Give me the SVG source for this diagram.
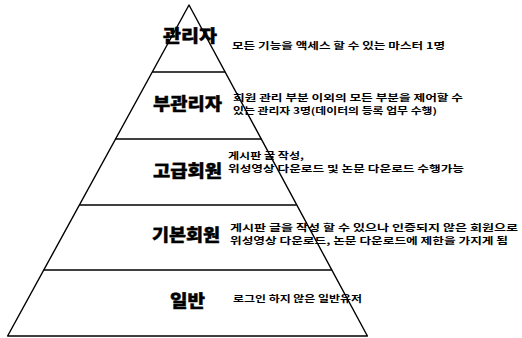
<svg xmlns="http://www.w3.org/2000/svg" width="522" height="338" viewBox="0 0 522 338">
<style>
.edge{fill:none;stroke:#000;stroke-width:1.4;stroke-linejoin:round}
.t{font-family:"Noto Sans CJK KR","Noto Sans",sans-serif;font-weight:900;font-size:17px;fill:#000;stroke:#000;stroke-width:0.4}
.d{font-family:"Noto Sans CJK KR","Noto Sans",sans-serif;font-weight:bold;font-size:8.8px;fill:#000}
</style>
<rect width="522" height="338" fill="#fff"/>
<g id="connectors">
<path class="edge" d="M189,5 L7.6,336 L367.4,336 Z"/>
<line class="edge" x1="152.3" y1="72" x2="225.1" y2="72"/>
<line class="edge" x1="115.6" y1="139" x2="261.2" y2="139"/>
<line class="edge" x1="79.4" y1="205" x2="296.8" y2="205"/>
<line class="edge" x1="43.8" y1="270" x2="331.8" y2="270"/>
</g>
<g id="level1">
<text class="t" x="163" y="42" textLength="54" lengthAdjust="spacingAndGlyphs">관리자</text>
<text class="d" x="232" y="49" textLength="213" lengthAdjust="spacingAndGlyphs">모든 기능을 액세스 할 수 있는 마스터 1명</text>
</g>
<g id="level2">
<text class="t" x="153" y="110" textLength="69" lengthAdjust="spacingAndGlyphs">부관리자</text>
<text class="d" x="233" y="101" textLength="230" lengthAdjust="spacingAndGlyphs">회원 관리 부분 이외의 모든 부분을 제어할 수</text>
<text class="d" x="233" y="114" textLength="204" lengthAdjust="spacingAndGlyphs">있는 관리자 3명(데이터의 등록 업무 수행)</text>
</g>
<g id="level3">
<text class="t" x="153" y="177" textLength="69" lengthAdjust="spacingAndGlyphs">고급회원</text>
<text class="d" x="228" y="159" textLength="76" lengthAdjust="spacingAndGlyphs">게시판 글 작성,</text>
<text class="d" x="228" y="172" textLength="236" lengthAdjust="spacingAndGlyphs">위성영상 다운로드 및 논문 다운로드 수행가능</text>
</g>
<g id="level4">
<text class="t" x="152" y="241" textLength="68" lengthAdjust="spacingAndGlyphs">기본회원</text>
<text class="d" x="230" y="231" textLength="288" lengthAdjust="spacingAndGlyphs">게시판 글을 작성 할 수 있으나 인증되지 않은 회원으로</text>
<text class="d" x="230" y="244" textLength="278" lengthAdjust="spacingAndGlyphs">위성영상 다운로드, 논문 다운로드에 제한을 가지게 됨</text>
</g>
<g id="level5">
<text class="t" x="170" y="307" textLength="35" lengthAdjust="spacingAndGlyphs">일반</text>
<text class="d" x="233" y="302" textLength="129" lengthAdjust="spacingAndGlyphs">로그인 하지 않은 일반유저</text>
</g>
</svg>
